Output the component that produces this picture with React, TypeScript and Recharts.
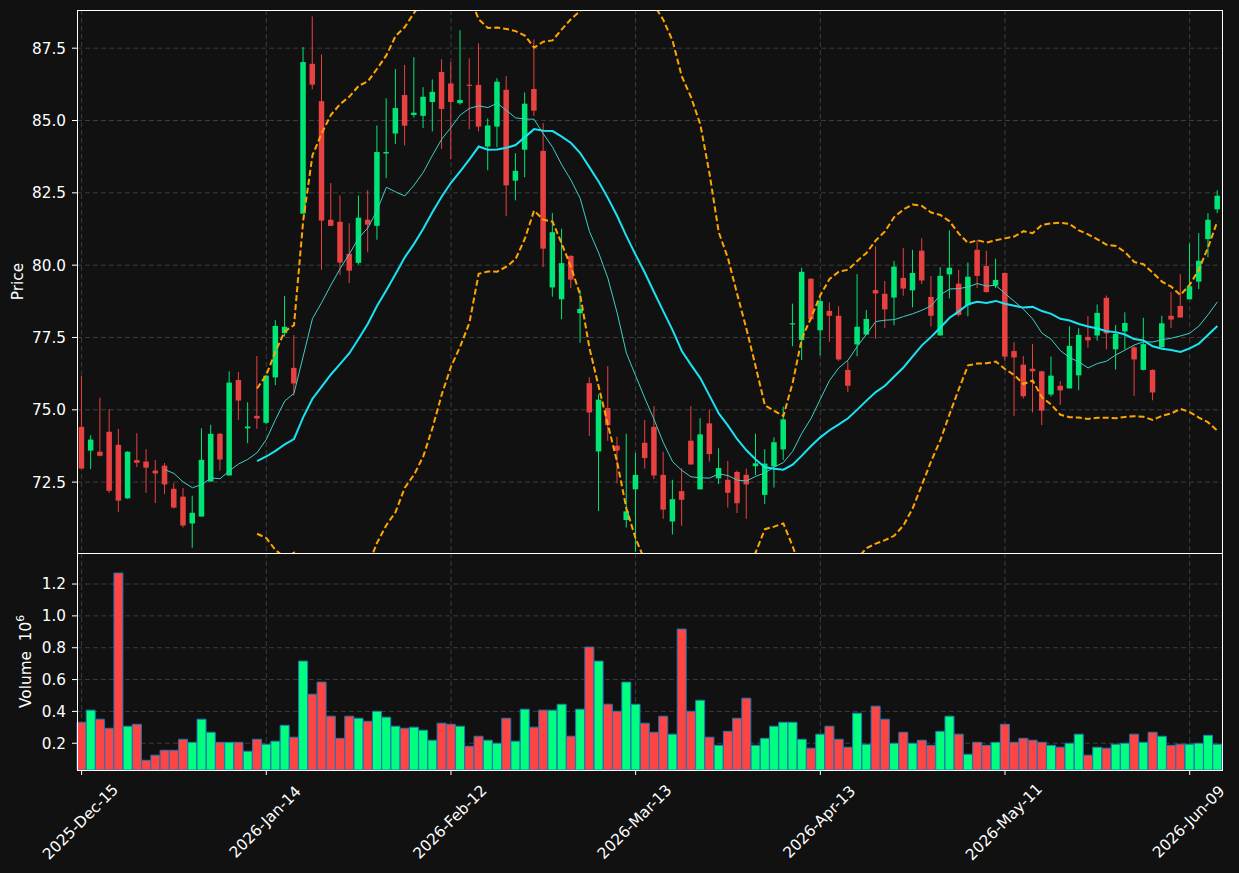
import React from 'react';
import { ComposedChart, Bar, Line, XAxis, YAxis, CartesianGrid, Cell } from 'recharts';

// daily OHLC (124 sessions)
const opens = [
  74.41, 73.59, 73.55, 74.24, 73.79, 71.94, 73.26, 73.21, 72.9, 73.07,
  72.27, 72.0, 71.07, 71.31, 72.52, 74.17, 72.73, 76.03, 74.36, 74.79,
  74.55, 76.12, 77.65, 76.45, 81.78, 86.96, 85.67, 81.57, 81.5, 80.39,
  80.08, 81.57, 81.36, 83.86, 84.55, 85.88, 85.19, 85.16, 85.64, 86.68,
  86.28, 85.6, 86.24, 86.23, 84.1, 84.79, 86.06, 82.92, 83.99, 86.09,
  83.95, 79.23, 78.82, 80.32, 78.34, 75.92, 73.56, 75.06, 73.76, 71.19,
  72.25, 73.86, 74.41, 72.75, 71.14, 72.19, 73.93, 72.25, 74.53, 72.63,
  72.58, 72.85, 72.75, 73.05, 72.06, 73.04, 73.63, 77.95, 77.41, 79.53,
  77.75, 78.42, 78.25, 76.38, 77.26, 77.6, 79.14, 79.01, 78.88, 79.56,
  79.13, 80.5, 78.9, 77.57, 79.68, 79.36, 78.61, 80.53, 79.97, 79.3,
  79.73, 77.03, 76.56, 76.42, 76.33, 75.53, 75.83, 75.74, 76.19, 77.52,
  77.57, 78.87, 77.09, 77.71, 77.16, 76.38, 76.38, 77.16, 78.25, 78.59,
  78.82, 79.43, 80.9, 81.93,
];
const highs = [
  76.18, 74.12, 75.42, 75.02, 74.34, 73.57, 74.19, 73.64, 73.26, 73.16,
  72.46, 72.3, 72.03, 74.36, 74.48, 74.2, 76.33, 76.31, 75.26, 76.86,
  76.2, 78.1, 78.93, 77.58, 87.54, 88.6, 87.28, 82.84, 82.41, 81.45,
  82.41, 82.59, 84.83, 85.77, 86.78, 86.92, 87.19, 86.15, 86.42, 87.12,
  87.02, 88.12, 87.15, 87.67, 85.07, 86.46, 86.54, 83.87, 85.97, 87.8,
  84.91, 81.8, 81.26, 80.35, 79.14, 76.13, 75.53, 76.51, 74.07, 74.17,
  73.51, 74.65, 75.13, 73.55, 72.58, 72.98, 75.13, 74.71, 75.01, 73.67,
  73.23, 72.9, 72.97, 74.17, 73.64, 74.05, 75.11, 78.67, 79.91, 79.55,
  78.9, 78.71, 78.58, 76.69, 79.69, 78.45, 80.65, 79.45, 80.15, 80.59,
  80.53, 80.93, 79.62, 79.93, 81.2, 79.84, 80.09, 80.87, 80.5, 80.22,
  79.75, 77.34, 76.86, 77.27, 76.35, 76.84, 75.99, 77.89, 77.82, 78.24,
  78.64, 78.95, 77.93, 78.37, 77.22, 78.18, 76.4, 78.25, 79.07, 79.69,
  80.75, 81.11, 81.8, 82.59,
];
const lows = [
  72.95, 72.95, 73.39, 72.13, 71.47, 71.92, 73.02, 72.13, 71.78, 72.09,
  71.59, 70.93, 70.23, 71.31, 72.52, 72.9, 72.73, 74.65, 73.85, 74.34,
  74.5, 75.85, 77.53, 75.49, 81.78, 86.08, 79.84, 81.36, 79.66, 79.38,
  80.02, 80.45, 80.88, 83.01, 84.19, 84.14, 85.1, 84.74, 84.62, 84.02,
  83.66, 85.55, 84.7, 84.62, 83.28, 84.08, 81.69, 82.24, 83.04, 85.16,
  79.93, 78.91, 78.13, 79.2, 77.32, 74.1, 71.5, 73.93, 72.46, 70.93,
  70.09, 72.97, 72.6, 71.23, 70.69, 70.99, 73.1, 72.25, 73.21, 72.43,
  71.62, 71.43, 71.23, 72.75, 71.74, 72.31, 73.27, 77.2, 76.72, 78.07,
  76.88, 77.35, 76.69, 75.61, 76.85, 77.6, 77.45, 77.83, 77.92, 78.94,
  78.54, 79.35, 77.88, 77.57, 78.85, 78.23, 78.23, 79.21, 79.05, 79.21,
  76.69, 74.79, 75.39, 74.91, 74.47, 75.46, 75.17, 75.74, 75.68, 77.15,
  77.39, 77.09, 76.39, 77.09, 75.48, 76.36, 75.33, 77.16, 77.82, 78.19,
  78.82, 79.17, 80.27, 81.8,
];
const closes = [
  72.97, 73.97, 73.41, 72.2, 71.86, 73.55, 73.17, 73.0, 72.8, 72.42,
  71.62, 71.0, 71.44, 73.27, 74.17, 73.28, 75.94, 75.32, 74.42, 74.7,
  76.18, 77.9, 77.87, 75.91, 87.02, 86.24, 81.54, 81.36, 80.09, 79.81,
  81.64, 81.4, 83.91, 83.91, 85.43, 84.82, 85.27, 85.82, 85.99, 85.4,
  85.64, 85.71, 86.2, 84.79, 84.83, 86.34, 82.76, 83.26, 85.58, 85.34,
  80.57, 81.14, 80.07, 79.5, 78.49, 74.91, 75.35, 74.47, 73.59, 71.49,
  72.75, 73.33, 72.73, 71.55, 71.91, 71.89, 73.11, 74.15, 73.47, 72.99,
  72.13, 71.77, 72.42, 73.15, 73.14, 73.88, 74.67, 77.99, 79.77, 78.13,
  78.76, 78.25, 76.74, 75.83, 77.87, 78.14, 79.02, 78.47, 79.95, 79.19,
  79.73, 79.47, 78.25, 79.63, 79.91, 78.28, 79.6, 79.63, 79.07, 79.49,
  76.84, 76.81, 75.47, 76.33, 74.97, 76.18, 75.67, 77.21, 77.59, 77.4,
  78.35, 77.64, 77.63, 78.0, 76.74, 77.27, 75.6, 77.99, 78.12, 78.19,
  79.27, 80.15, 81.57, 82.4,
];
// volume in millions of shares
const volumes = [
  0.332, 0.408, 0.351, 0.294, 1.269, 0.307, 0.319, 0.093, 0.125, 0.156,
  0.156, 0.225, 0.206, 0.351, 0.269, 0.206, 0.206, 0.206, 0.15, 0.225,
  0.194, 0.213, 0.313, 0.238, 0.716, 0.508, 0.584, 0.37, 0.231, 0.37,
  0.357, 0.338, 0.401, 0.364, 0.307, 0.294, 0.301, 0.282, 0.219, 0.326,
  0.319, 0.307, 0.181, 0.244, 0.219, 0.2, 0.357, 0.213, 0.414, 0.301,
  0.408, 0.408, 0.445, 0.244, 0.414, 0.804, 0.716, 0.445, 0.401, 0.584,
  0.445, 0.326, 0.269, 0.37, 0.257, 0.917, 0.401, 0.47, 0.238, 0.187,
  0.275, 0.357, 0.483, 0.187, 0.231, 0.307, 0.332, 0.332, 0.225, 0.169,
  0.257, 0.307, 0.225, 0.175, 0.389, 0.194, 0.433, 0.351, 0.2, 0.269,
  0.2, 0.219, 0.187, 0.275, 0.37, 0.257, 0.131, 0.206, 0.187, 0.206,
  0.319, 0.206, 0.231, 0.219, 0.206, 0.187, 0.175, 0.2, 0.257, 0.125,
  0.175, 0.169, 0.194, 0.2, 0.257, 0.206, 0.269, 0.244, 0.187, 0.194,
  0.194, 0.2, 0.25, 0.194,
];

const tickIndex = [0, 20, 40, 60, 80, 100, 120];
const tickLabels = ['2025-Dec-15', '2026-Jan-14', '2026-Feb-12', '2026-Mar-13', '2026-Apr-13', '2026-May-11', '2026-Jun-09'];
const priceTicks = [72.5, 75, 77.5, 80, 82.5, 85, 87.5];
const volumeTicks = [0.2, 0.4, 0.6, 0.8, 1.0, 1.2];

const BG = '#111111';
const FG = '#ffffff';
const GRID = '#3c3c3c';
const FONT = 'DejaVu Sans';
const FS = 15.3;
const UP = '#00e676';
const DOWN = '#e84142';
const VUP = '#00ff7f';
const VDOWN = '#ff4444';

// moving average / bollinger from the closes
const rollingMean = (arr: number[], n: number) =>
  arr.map((_, i) => (i < n - 1 ? null : arr.slice(i - n + 1, i + 1).reduce((a, b) => a + b, 0) / n));

const rollingStd = (arr: number[], n: number) =>
  arr.map((_, i) => {
    if (i < n - 1) return null;
    const w = arr.slice(i - n + 1, i + 1);
    const m = w.reduce((a, b) => a + b, 0) / n;
    return Math.sqrt(w.reduce((a, b) => a + (b - m) * (b - m), 0) / n);
  });

const ma10 = rollingMean(closes, 10);
const ma20 = rollingMean(closes, 20);
const sd20 = rollingStd(closes, 20);

const data = closes.map((c, i) => ({
  i,
  open: opens[i],
  high: highs[i],
  low: lows[i],
  close: c,
  range: [lows[i], highs[i]],
  volume: volumes[i],
  ma10: ma10[i],
  ma20: ma20[i],
  bbUp: ma20[i] == null ? null : (ma20[i] as number) + 2 * (sd20[i] as number),
  bbLo: ma20[i] == null ? null : (ma20[i] as number) - 2 * (sd20[i] as number),
}));

const Candle = (props: any) => {
  const { x, y, width, height, payload } = props;
  const { open, close, high, low } = payload;
  const color = close >= open ? UP : DOWN;
  const cx = x + width / 2;
  const span = high - low;
  const toY = (v: number) => (span > 0 ? y + ((high - v) / span) * height : y);
  const top = toY(Math.max(open, close));
  const bot = toY(Math.min(open, close));
  return (
    <g>
      <line x1={cx} x2={cx} y1={y} y2={y + height} stroke={color} strokeWidth={1} />
      <rect x={cx - 2.75} y={top} width={5.5} height={Math.max(bot - top, 1)} fill={color} />
    </g>
  );
};

const DateTick = (props: any) => {
  const { x, y, payload } = props;
  const k = tickIndex.indexOf(payload.value);
  const cx = x - 1;
  const cy = y + 45;
  return (
    <text
      x={cx}
      y={cy}
      fill={FG}
      fontSize={FS}
      fontFamily={FONT}
      textAnchor="middle"
      dominantBaseline="central"
      transform={`rotate(-45, ${cx}, ${cy})`}
    >
      {k >= 0 ? tickLabels[k] : ''}
    </text>
  );
};

const axisLabel = (text: string, dx: number, sup?: string) => (props: any) => {
  const vb = props.viewBox;
  const cx = vb.x + dx;
  const cy = vb.y + vb.height / 2;
  return (
    <text
      x={cx}
      y={cy}
      fill={FG}
      fontSize={FS}
      fontFamily={FONT}
      textAnchor="middle"
      dominantBaseline="central"
      transform={`rotate(-90, ${cx}, ${cy})`}
    >
      {text}
      {sup ? (
        <tspan fontSize={FS * 0.7} dy={-6}>
          {sup}
        </tspan>
      ) : null}
    </text>
  );
};

const tickStyle = { fill: FG, fontSize: FS, fontFamily: FONT };

export default function App() {
  return (
    <div style={{ position: 'fixed', left: 0, top: 0, width: 1239, height: 873, background: BG, overflow: 'hidden' }}>
      <div style={{ position: 'absolute', left: 0, top: 0 }}>
        <ComposedChart width={1239} height={553} data={data} margin={{ top: 10, right: 17, bottom: 0, left: 0 }}>
          <CartesianGrid stroke={GRID} strokeDasharray="5 3" syncWithTicks />
          <XAxis dataKey="i" hide ticks={tickIndex} interval={0} />
          <YAxis
            domain={[70.05, 88.82]}
            allowDataOverflow
            ticks={priceTicks}
            tickFormatter={(v: number) => v.toFixed(1)}
            width={77}
            tick={tickStyle}
            tickLine={{ stroke: FG }}
            axisLine={false}
            tickSize={5}
            tickMargin={6}
            label={{ content: axisLabel('Price', 18) }}
          />
          <Bar dataKey="range" shape={(p: any) => <Candle {...p} />} isAnimationActive={false} />
          <Line dataKey="bbUp" stroke="#ffa500" strokeWidth={2} strokeDasharray="6 3" dot={false} isAnimationActive={false} />
          <Line dataKey="bbLo" stroke="#ffa500" strokeWidth={2} strokeDasharray="6 3" dot={false} isAnimationActive={false} />
          <Line dataKey="ma10" stroke="#3fcfc5" strokeWidth={1} dot={false} isAnimationActive={false} />
          <Line dataKey="ma20" stroke="#18e4f4" strokeWidth={2} dot={false} isAnimationActive={false} />
        </ComposedChart>
      </div>
      <div style={{ position: 'absolute', left: 0, top: 553 }}>
        <ComposedChart width={1239} height={320} data={data} margin={{ top: 0, right: 17, bottom: 0, left: 0 }} barCategoryGap={0}>
          <CartesianGrid stroke={GRID} strokeDasharray="5 3" syncWithTicks />
          <XAxis
            dataKey="i"
            ticks={tickIndex}
            interval={0}
            height={103}
            axisLine={false}
            tickLine={{ stroke: FG }}
            tickSize={5}
            tick={(p: any) => <DateTick {...p} />}
          />
          <YAxis
            domain={[0.032, 1.395]}
            allowDataOverflow
            ticks={volumeTicks}
            tickFormatter={(v: number) => v.toFixed(1)}
            width={77}
            tick={tickStyle}
            tickLine={{ stroke: FG }}
            axisLine={false}
            tickSize={5}
            tickMargin={6}
            label={{ content: axisLabel('Volume\u00a0\u00a010', 26, '6') }}
          />
          <Bar dataKey="volume" stroke="#1f77b4" strokeWidth={1} isAnimationActive={false}>
            {data.map((d) => (
              <Cell key={d.i} fill={d.close >= d.open ? VUP : VDOWN} />
            ))}
          </Bar>
        </ComposedChart>
      </div>
      <div style={{ position: 'absolute', left: 77, top: 10, width: 1146, height: 544, border: `1px solid ${FG}`, boxSizing: 'border-box', pointerEvents: 'none' }} />
      <div style={{ position: 'absolute', left: 77, top: 553, width: 1146, height: 218, border: `1px solid ${FG}`, boxSizing: 'border-box', pointerEvents: 'none' }} />
    </div>
  );
}
